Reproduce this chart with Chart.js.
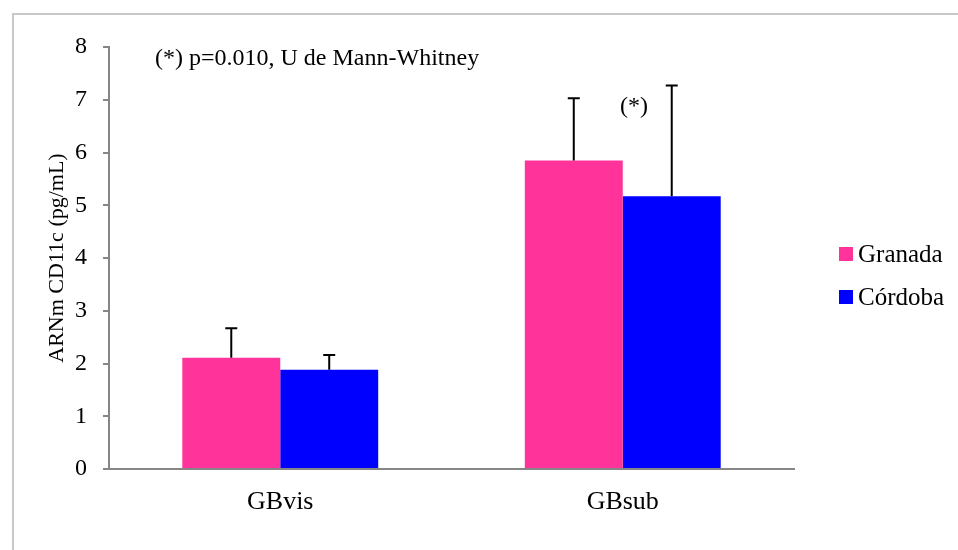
<!DOCTYPE html>
<html>
<head>
<meta charset="utf-8">
<script src="https://cdn.jsdelivr.net/npm/chart.js@4"></script>
<style>
    body { margin: 0; background: #fff; }
    #wrap { position: relative; width: 958px; height: 550px; overflow: hidden; font-family: "Liberation Serif", "Times New Roman", serif; }
    #frame { position: absolute; left: 12px; top: 13px; width: 960px; height: 560px; border: 2px solid #c8c8c8; box-sizing: border-box; }
    canvas { position: absolute; left: 0; top: 0; }
    .note { position: absolute; font-size: 24px; line-height: 28px; color: #000; white-space: nowrap; }
    .legend { position: absolute; left: 839px; font-size: 25px; line-height: 28px; white-space: nowrap; }
    .legend span { display: inline-block; width: 14px; height: 14px; margin-right: 5px; vertical-align: 1px; }
</style>
</head>
<body>
<div id="wrap">
    <div id="frame"></div>
    <canvas id="chart" width="958" height="550"></canvas>
    <div class="note" style="left:155px; top:43px;">(*) p=0.010, U de Mann-Whitney</div>
    <div class="note" style="left:620px; top:91px;">(*)</div>
    <div class="legend" style="top:240px;"><span style="background:#FF3399"></span>Granada</div>
    <div class="legend" style="top:283px;"><span style="background:#0000FF"></span>Córdoba</div>
</div>
<script>
const categories = ['GBvis', 'GBsub'];
const granada = [2.11, 5.85];
const granadaErr = [0.56, 1.18];
const cordoba = [1.88, 5.17];
const cordobaErr = [0.28, 2.10];
const yTicks = [0, 1, 2, 3, 4, 5, 6, 7, 8];

// draw the upper error whiskers from the bar tops
const errorBars = {
    id: 'errorBars',
    afterDatasetsDraw(chart) {
        const ctx = chart.ctx;
        const y = chart.scales.y;
        ctx.save();
        ctx.strokeStyle = '#000';
        ctx.lineWidth = 2;
        chart.data.datasets.forEach((ds, i) => {
            chart.getDatasetMeta(i).data.forEach((bar, j) => {
                const top = y.getPixelForValue(ds.data[j] + ds.err[j]);
                ctx.beginPath();
                ctx.moveTo(bar.x, bar.y);
                ctx.lineTo(bar.x, top);
                ctx.moveTo(bar.x - 6, top);
                ctx.lineTo(bar.x + 6, top);
                ctx.stroke();
            });
        });
        ctx.restore();
    }
};

new Chart(document.getElementById('chart'), {
    type: 'bar',
    data: {
        labels: categories,
        datasets: [
            { label: 'Granada', data: granada, err: granadaErr, backgroundColor: '#FF3399' },
            { label: 'Córdoba', data: cordoba, err: cordobaErr, backgroundColor: '#0000FF' }
        ]
    },
    options: {
        responsive: false,
        animation: false,
        events: [],
        layout: { padding: { left: 44, right: 164, top: 47, bottom: 0 } },
        categoryPercentage: 0.572,
        barPercentage: 1,
        plugins: { legend: { display: false }, tooltip: { enabled: false } },
        scales: {
            x: {
                grid: { display: false, drawTicks: false },
                border: { color: '#868686', width: 2 },
                ticks: { color: '#000', padding: 18, font: { family: 'Liberation Serif', size: 26 } },
                afterFit: s => { s.height = 81; }
            },
            y: {
                min: 0,
                max: 8,
                afterBuildTicks: s => { s.ticks = yTicks.map(v => ({ value: v })); },
                grid: { drawOnChartArea: false, drawTicks: true, tickLength: 6, color: '#868686', lineWidth: 2 },
                border: { color: '#868686', width: 2 },
                ticks: { color: '#000', padding: 16, font: { family: 'Liberation Serif', size: 24 } },
                title: { display: true, text: 'ARNm CD11c (pg/mL)', color: '#000', padding: 0, font: { family: 'Liberation Serif', size: 22 } },
                afterFit: s => { s.width = 65; }
            }
        }
    },
    plugins: [errorBars]
});
</script>
</body>
</html>
